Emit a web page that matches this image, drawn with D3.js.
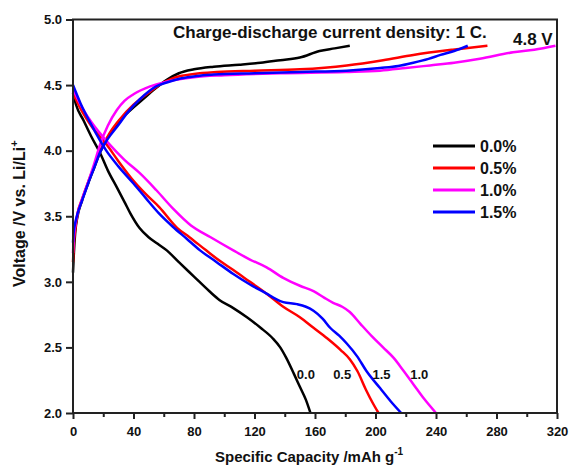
<!DOCTYPE html>
<html><head><meta charset="utf-8">
<script src="https://cdn.jsdelivr.net/npm/d3@7"></script>
<style>body{margin:0;background:#fff;} text{font-family:"Liberation Sans",Arial,sans-serif;font-weight:bold;}</style>
</head><body><svg id="c" width="571" height="468"></svg>
<script>
const seriesNames = ["0.0%","0.5%","1.0%","1.5%"];
const curveLabels = ["0.0","0.5","1.0","1.5"];
const colors = ["#000000","#ff0000","#ff00ff","#0000ff"];
const xTicks = [0,40,80,120,160,200,240,280,320];
const yTicks = [2.0,2.5,3.0,3.5,4.0,4.5,5.0];

// Charge curves: capacity (mAh/g) and voltage (V)
const charge00X = [0,0.5,1.5,3,6,10,14,18,24,31,38,46,54,62,70,80,93,110,124,137,150,163,173,183];
const charge00V = [3.07,3.2,3.38,3.5,3.62,3.75,3.87,3.99,4.12,4.23,4.31,4.39,4.47,4.54,4.59,4.62,4.64,4.655,4.67,4.69,4.71,4.76,4.78,4.80];
const charge05X = [0,0.5,1.5,3,6,10,14,18,24,31,40,51,60,68,80,95,120,150,181,205,225,251,274];
const charge05V = [3.15,3.28,3.4,3.52,3.63,3.76,3.88,4.0,4.13,4.24,4.35,4.45,4.52,4.56,4.585,4.60,4.61,4.62,4.65,4.69,4.73,4.77,4.80];
const charge10X = [0,0.5,1.5,3,6,10,14,18,23,29,34,40,51,60,68,80,100,137,180,203,220,236,252,269,291,305,319];
const charge10V = [3.22,3.33,3.43,3.52,3.63,3.76,3.9,4.05,4.19,4.31,4.38,4.43,4.49,4.52,4.54,4.56,4.575,4.59,4.60,4.61,4.63,4.65,4.67,4.70,4.75,4.77,4.80];
const charge15X = [0,0.5,1.5,3,6,10,14,18,23,29,36,44,55,62,71,82,93,120,150,181,203,215,225,235,243,252,261];
const charge15V = [3.3,3.38,3.45,3.52,3.62,3.75,3.87,3.99,4.09,4.18,4.29,4.39,4.49,4.52,4.55,4.57,4.58,4.59,4.60,4.61,4.63,4.645,4.67,4.70,4.73,4.76,4.80];

// Discharge curves
const dis00X = [0,2,7,12,18,23,29,34,38,44,50,56,62,70,80,90,97,106,115,124,132,137,141,146,150,154,157];
const dis00V = [4.44,4.35,4.23,4.11,3.98,3.85,3.72,3.61,3.52,3.41,3.34,3.29,3.24,3.15,3.04,2.93,2.86,2.80,2.73,2.65,2.57,2.50,2.42,2.30,2.20,2.10,2.0];
const dis05X = [0,5,12,22,30,40,48,57,69,77,88,97,106,117,128,139,150,159,168,177,183,188,194,198,202];
const dis05V = [4.44,4.32,4.19,4.05,3.92,3.77,3.67,3.57,3.41,3.34,3.24,3.16,3.09,3.0,2.91,2.81,2.73,2.65,2.57,2.48,2.41,2.32,2.17,2.08,2.0];
const dis10X = [0,5,12,24,34,44,55,66,78,91,106,117,128,139,150,159,166,172,178,183,190,198,205,212,218,225,232,240];
const dis10V = [4.47,4.35,4.22,4.05,3.93,3.83,3.70,3.56,3.43,3.34,3.24,3.17,3.11,3.03,2.97,2.93,2.88,2.84,2.81,2.77,2.68,2.58,2.50,2.42,2.33,2.22,2.11,2.0];
const dis15X = [0,5,12,22,30,40,48,57,66,75,84,95,106,117,128,134,139,148,154,159,165,170,176,181,188,194,203,210,217];
const dis15V = [4.50,4.36,4.2,4.0,3.88,3.75,3.64,3.52,3.42,3.33,3.24,3.15,3.06,2.98,2.91,2.87,2.845,2.83,2.81,2.78,2.72,2.65,2.59,2.53,2.43,2.32,2.19,2.09,2.0];

const chargeX = [charge00X,charge05X,charge10X,charge15X];
const chargeV = [charge00V,charge05V,charge10V,charge15V];
const disX = [dis00X,dis05X,dis10X,dis15X];
const disV = [dis00V,dis05V,dis10V,dis15V];
const labelOrder = [0,1,3,2];
const labelPos = [[148,2.26],[172,2.26],[198,2.26],[223,2.26]]; // label anchors in data units

const svg = d3.select("#c");
const L=73, R=557, T=19.5, B=413;
const x = d3.scaleLinear().domain([0,320]).range([L,R]);
const y = d3.scaleLinear().domain([2,5]).range([B,T]);

const line = d3.line().x(d=>x(d[0])).y(d=>y(d[1])).curve(d3.curveMonotoneX);
const g = svg.append("g");
for (let i=0;i<4;i++){
  const c = chargeX[i].map((v,j)=>[v,chargeV[i][j]]);
  const d = disX[i].map((v,j)=>[v,disV[i][j]]);
  g.append("path").attr("d",line(c)).attr("fill","none").attr("stroke",colors[i]).attr("stroke-width",2.5);
  g.append("path").attr("d",line(d)).attr("fill","none").attr("stroke",colors[i]).attr("stroke-width",2.5);
}

// frame
svg.append("rect").attr("x",L).attr("y",T).attr("width",R-L).attr("height",B-T)
  .attr("fill","none").attr("stroke","#222").attr("stroke-width",2);

// axes
const xa = svg.append("g").attr("transform",`translate(0,${B})`)
  .call(d3.axisBottom(x).tickValues(xTicks).tickSize(6).tickFormat(d3.format("d")));
const xm = svg.append("g").attr("transform",`translate(0,${B})`)
  .call(d3.axisBottom(x).tickValues(xTicks.slice(0,-1).map(v=>v+20)).tickSize(4).tickFormat(""));
const ya = svg.append("g").attr("transform",`translate(${L},0)`)
  .call(d3.axisLeft(y).tickValues(yTicks).tickSize(7).tickFormat(d3.format(".1f")));
[xa,xm,ya].forEach(a=>{a.select(".domain").remove(); a.selectAll("line").attr("stroke","#222").attr("stroke-width",2);
  a.selectAll("text").attr("fill","#111").style("font-size","13px").style("font-family","Liberation Sans, Arial, sans-serif").style("font-weight","bold");});
xa.selectAll("text").attr("dy","1.05em");
ya.selectAll("text").attr("x",-11);

// axis titles
const xt = svg.append("text").attr("x",215).attr("y",462).attr("fill","#111").style("font-size","15px");
xt.append("tspan").text("Specific Capacity /mAh g");
xt.append("tspan").attr("dy",-7).style("font-size","10px").text("-1");
const yt = svg.append("text").attr("transform","translate(25,287) rotate(-90)").attr("fill","#111").style("font-size","16px");
yt.append("tspan").text("Voltage /V vs. Li/Li");
yt.append("tspan").attr("dy",-7).style("font-size","11px").text("+");

// annotations
svg.append("text").attr("x",173).attr("y",38).attr("fill","#111").style("font-size","17px").text("Charge-discharge current density: 1 C.");
svg.append("text").attr("x",513).attr("y",45).attr("fill","#111").style("font-size","17px").text("4.8 V");

// curve labels
labelOrder.forEach((si,k)=>{
  svg.append("text").attr("x",x(labelPos[k][0])).attr("y",y(labelPos[k][1])).attr("fill","#111")
    .style("font-size","13px").text(curveLabels[si]);
});

// legend
seriesNames.forEach((n,i)=>{
  const yy = 146 + i*22;
  svg.append("line").attr("x1",433).attr("x2",475).attr("y1",yy).attr("y2",yy).attr("stroke",colors[i]).attr("stroke-width",3);
  svg.append("text").attr("x",480).attr("y",yy+6).attr("fill","#111").style("font-size","16px").text(n);
});
</script></body></html>
